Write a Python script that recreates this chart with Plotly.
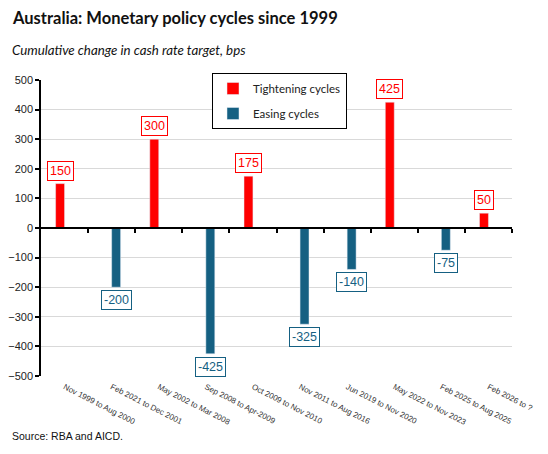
import plotly.graph_objects as go

# cycles (label text kept as in source, including its typo)
cycles = ["Nov 1999 to Aug 2000", "Feb 2021 to Dec 2001", "May 2002 to Mar 2008",
          "Sep 2008 to Apr-2009", "Oct 2009 to Nov 2010", "Nov 2011 to Aug 2016",
          "Jun 2019 to Nov 2020", "May 2022 to Nov 2023", "Feb 2025 to Aug 2025",
          "Feb 2026 to ?"]
tightening = [150, None, 300, None, 175, None, None, 425, None, 50]
easing = [None, -200, None, -425, None, -325, -140, None, -75, None]
y_ticks = [-500, -400, -300, -200, -100, 0, 100, 200, 300, 400, 500]

RED = "#FF0000"
BLUE = "#156082"
BARGAP = 0.62

# page has an 8px body margin, so the figure is drawn 8px in from the window corner
PAD = 8
W, H = 548 - PAD, 454 - PAD
L, R, T, B = 41 - PAD, 36, 80 - PAD, 78

def px(x):
  return (x - PAD - L) / (W - L - R)

def py(y):
  return (H - B - (y - PAD)) / (H - T - B)

fig = go.Figure()

fig.add_trace(go.Bar(x=cycles, y=tightening, name="Tightening cycles",
                     marker_color=RED, legendgroup="t"))
fig.add_trace(go.Bar(x=cycles, y=easing, name="Easing cycles",
                     marker_color=BLUE, legendgroup="e"))
# empty trace so the zero-line axis (x2) with its boundary ticks is drawn
fig.add_trace(go.Scatter(x=[None], y=[None], xaxis="x2", showlegend=False,
                         hoverinfo="skip"))

# boxed data labels above/below each bar
off = (1 - BARGAP) / 4
for i, v in enumerate(tightening):
  if v is not None:
    fig.add_annotation(x=i - off, y=v, text=str(v), showarrow=False,
                       yanchor="bottom", yshift=3,
                       font=dict(family="Liberation Sans", size=12.5, color=RED),
                       bordercolor=RED, borderwidth=1, borderpad=2, bgcolor="white")
for i, v in enumerate(easing):
  if v is not None:
    fig.add_annotation(x=i + off, y=v, text=str(v), showarrow=False,
                       yanchor="top", yshift=-3,
                       font=dict(family="Liberation Sans", size=12.5, color=BLUE),
                       bordercolor=BLUE, borderwidth=1, borderpad=2, bgcolor="white")

fig.add_annotation(xref="paper", yref="paper", x=px(10), y=py(18),
                   xanchor="left", yanchor="middle", showarrow=False,
                   text="<b>Australia: Monetary policy cycles since 1999</b>",
                   font=dict(family="Lato", size=16.5, color="#111"))
fig.add_annotation(xref="paper", yref="paper", x=px(10), y=py(50),
                   xanchor="left", yanchor="middle", showarrow=False,
                   text="<i>Cumulative change in cash rate target, bps</i>",
                   font=dict(family="Lato", size=13.3, color="#111"))
fig.add_annotation(xref="paper", yref="paper", x=px(10), y=py(436),
                   xanchor="left", yanchor="middle", showarrow=False,
                   text="Source: RBA and AICD.",
                   font=dict(family="Liberation Sans", size=10.5, color="#111"))

fig.update_layout(
  width=W, height=H,
  margin=dict(l=L, r=R, t=T, b=B, autoexpand=False),
  paper_bgcolor="white", plot_bgcolor="white",
  barmode="group", bargap=BARGAP, bargroupgap=0,
  showlegend=True,
  legend=dict(x=px(212), y=py(73), xanchor="left", yanchor="top",
              bordercolor="black", borderwidth=1, bgcolor="white",
              tracegroupgap=6, itemwidth=30,
              font=dict(family="Lato", size=11.5, color="#222")),
  xaxis=dict(type="category", showgrid=False, zeroline=False, showline=False,
             ticks="", tickangle=27, automargin=False, ticklabelstandoff=4,
             tickfont=dict(family="Liberation Sans", size=8, color="#333")),
  xaxis2=dict(overlaying="x", anchor="free", position=0.5,
              range=[-0.5, len(cycles) - 0.5],
              tickvals=[i + 0.5 for i in range(len(cycles))],
              showticklabels=False, ticks="outside", ticklen=4, tickwidth=1.5,
              tickcolor="black", showline=True, linecolor="black", linewidth=2,
              showgrid=False, zeroline=False),
  yaxis=dict(range=[-500, 500], tickvals=y_ticks, showgrid=True,
             gridcolor="#D9D9D9", gridwidth=1, zeroline=False, automargin=False,
             showline=True, linecolor="black", linewidth=1.5,
             ticks="outside", ticklen=4, tickwidth=1.5, tickcolor="black",
             tickfont=dict(family="Liberation Sans", size=11, color="#222")),
)

fig.write_html("out.html")
